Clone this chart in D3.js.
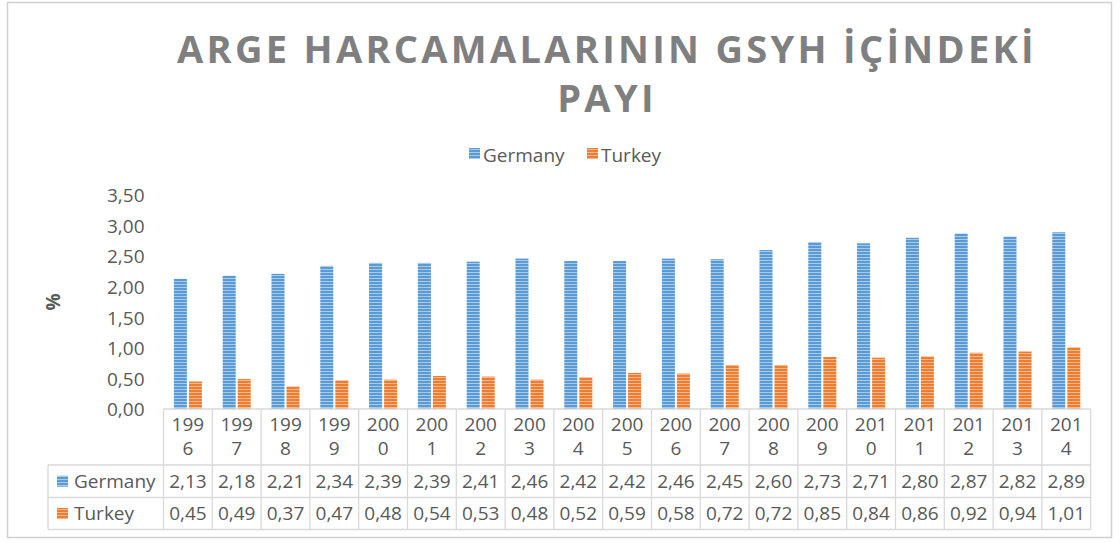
<!DOCTYPE html>
<html>
<head>
<meta charset="utf-8">
<script src="https://cdn.jsdelivr.net/npm/d3@7"></script>
<style>
  body { margin: 0; background: #fff; }
  svg { display: block; font-family: "Open Sans", sans-serif; }
</style>
</head>
<body>
<div class="chart"></div>
<script>
// data
const years = ["1996", "1997", "1998", "1999", "2000", "2001", "2002", "2003", "2004", "2005",
  "2006", "2007", "2008", "2009", "2010", "2011", "2012", "2013", "2014"];
const germany = [2.13, 2.18, 2.21, 2.34, 2.39, 2.39, 2.41, 2.46, 2.42, 2.42,
  2.46, 2.45, 2.60, 2.73, 2.71, 2.80, 2.87, 2.82, 2.89];
const turkey = [0.45, 0.49, 0.37, 0.47, 0.48, 0.54, 0.53, 0.48, 0.52, 0.59,
  0.58, 0.72, 0.72, 0.85, 0.84, 0.86, 0.92, 0.94, 1.01];
const seriesNames = ["Germany", "Turkey"];
const yTicks = [0, 0.5, 1, 1.5, 2, 2.5, 3, 3.5];
const titleLines = ["ARGE HARCAMALARININ GSYH İÇİNDEKİ", "PAYI"];

const width = 1120;
const height = 543;
const textColor = "#595959";
const gridColor = "#d9d9d9";
const fontSize = "19px";
const colors = { Germany: "#5b9bd5", Turkey: "#ed7d31" };
const lightColors = { Germany: "#a9cbea", Turkey: "#f6b88c" };

const fmt = v => d3.format(".2f")(v).replace(".", ",");

const svg = d3.select(".chart").append("svg")
  .attr("width", width)
  .attr("height", height);

// striped fills like the Excel pattern
const defs = svg.append("defs");
seriesNames.forEach(name => {
  const p = defs.append("pattern")
    .attr("id", "pat-" + name)
    .attr("patternUnits", "userSpaceOnUse")
    .attr("width", 6).attr("height", 3);
  p.append("rect").attr("width", 6).attr("height", 3).attr("fill", colors[name]);
  p.append("rect").attr("y", 2).attr("width", 6).attr("height", 1).attr("fill", lightColors[name]);
});

// outer frame
svg.append("rect")
  .attr("x", 7.5).attr("y", 2.5)
  .attr("width", 1104).attr("height", 535)
  .attr("fill", "none").attr("stroke", "#d0d0d0").attr("stroke-width", 1.5);

// title
svg.append("g").selectAll("text")
  .data(titleLines)
  .join("text")
  .attr("x", 607)
  .attr("y", (d, i) => 63 + i * 49)
  .attr("text-anchor", "middle")
  .attr("fill", "#7f7f7f")
  .style("font-weight", "bold")
  .style("font-size", "38px")
  .style("letter-spacing", "3.3px")
  .text(d => d);

// legend at top
const legend = svg.append("g").attr("transform", "translate(469,162)");
const legendX = [0, 118];
seriesNames.forEach((name, i) => {
  const g = legend.append("g").attr("transform", `translate(${legendX[i]},0)`);
  g.append("rect").attr("x", 0).attr("y", -14).attr("width", 11).attr("height", 11)
    .attr("fill", `url(#pat-${name})`);
  g.append("text").attr("x", 14).attr("y", 0)
    .attr("fill", textColor).style("font-size", fontSize).text(name);
});

// scales
const plotLeft = 163.5, plotRight = 1090.7;
const yTop = 195, yBottom = 409;
const x0 = d3.scaleBand().domain(years).range([plotLeft, plotRight]);
const x1 = d3.scaleBand().domain(seriesNames).range([0, x0.bandwidth()])
  .paddingInner(0.133).paddingOuter(0.69);
const y = d3.scaleLinear().domain([0, 3.5]).range([yBottom, yTop]);

// y axis labels (no line, no ticks)
const yAxis = svg.append("g")
  .attr("transform", `translate(${plotLeft - 19},0)`)
  .call(d3.axisLeft(y).tickValues(yTicks).tickFormat(fmt).tickSize(0).tickPadding(0));
yAxis.select(".domain").remove();
yAxis.selectAll("text")
  .attr("fill", textColor)
  .attr("dy", "0.36em")
  .style("font-family", "'Open Sans', sans-serif")
  .style("font-size", fontSize);

// y axis title
svg.append("text")
  .attr("transform", "translate(60,302) rotate(-90)")
  .attr("text-anchor", "middle")
  .attr("fill", textColor)
  .style("font-size", fontSize)
  .style("font-weight", "bold")
  .text("%");

// bars
const values = { Germany: germany, Turkey: turkey };
const barG = svg.append("g");
seriesNames.forEach(name => {
  barG.append("g").selectAll("rect")
    .data(years.map((yr, i) => ({ yr, v: values[name][i] })))
    .join("rect")
    .attr("x", d => x0(d.yr) + x1(name))
    .attr("width", x1.bandwidth())
    .attr("y", d => y(d.v))
    .attr("height", d => y(0) - y(d.v))
    .attr("fill", `url(#pat-${name})`);
});

// data table under the axis
const rowG = [465, 497.5];
const rowT = [497.5, 529.5];
const tableLeft = 48;
const table = svg.append("g")
  .attr("stroke", gridColor).attr("stroke-width", 1.3).attr("fill", "none");

// horizontal lines
table.append("line").attr("x1", plotLeft).attr("x2", plotRight).attr("y1", yBottom).attr("y2", yBottom);
[rowG[0], rowT[0], rowT[1]].forEach(yy => {
  table.append("line").attr("x1", tableLeft).attr("x2", plotRight).attr("y1", yy).attr("y2", yy);
});
// vertical lines
const cuts = years.map(yr => x0(yr)).concat([plotRight]);
cuts.forEach(xx => {
  table.append("line").attr("x1", xx).attr("x2", xx).attr("y1", yBottom).attr("y2", rowT[1]);
});
table.append("line").attr("x1", tableLeft).attr("x2", tableLeft).attr("y1", rowG[0]).attr("y2", rowT[1]);

const cx = yr => x0(yr) + x0.bandwidth() / 2;

// year labels, wrapped like in the original
const yearText = svg.append("g").attr("fill", textColor).style("font-size", fontSize)
  .attr("text-anchor", "middle");
years.forEach(yr => {
  yearText.append("text").attr("x", cx(yr)).attr("y", 431).text(yr.slice(0, 3));
  yearText.append("text").attr("x", cx(yr)).attr("y", 455).text(yr.slice(3));
});

// value rows
[["Germany", rowG], ["Turkey", rowT]].forEach(([name, row]) => {
  const midY = (row[0] + row[1]) / 2 + 6.5;
  svg.append("rect").attr("x", 57).attr("y", midY - 12).attr("width", 11).attr("height", 11)
    .attr("fill", `url(#pat-${name})`);
  svg.append("text").attr("x", 74).attr("y", midY)
    .attr("fill", textColor).style("font-size", fontSize).text(name);
  svg.append("g").selectAll("text")
    .data(values[name])
    .join("text")
    .attr("x", (d, i) => cx(years[i]))
    .attr("y", midY)
    .attr("text-anchor", "middle")
    .attr("fill", textColor)
    .style("font-size", fontSize)
    .text(d => fmt(d));
});
</script>
</body>
</html>
